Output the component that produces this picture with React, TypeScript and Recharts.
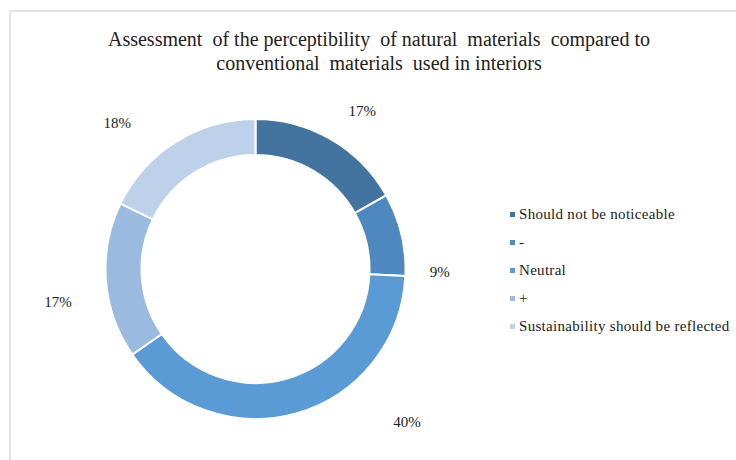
import { PieChart, Pie, Cell, Legend } from 'recharts';

const categories = ['Should not be noticeable', '-', 'Neutral', '+', 'Sustainability should be reflected'];
const shares = [17, 9, 40, 17, 18];

const COLORS = ['#43739F', '#4E88BE', '#5B9BD5', '#9BBAE0', '#BDD1EB'];

// hand-placed offsets for the outside labels so they sit like the report figure
const LABEL_NUDGE: [number, number][] = [
  [20, -9],
  [17, 43],
  [104, -12],
  [-26, 20],
  [-47, 0],
];

const FONT = '"Liberation Serif", "Times New Roman", serif';
const RADIAN = Math.PI / 180;

const data = categories.map((name, i) => ({ name, value: shares[i] }));

function renderLabel(props: any) {
  const { cx, cy, midAngle, outerRadius, index, value } = props;
  const r = outerRadius + 22;
  const [dx, dy] = LABEL_NUDGE[index];
  const x = cx + r * Math.cos(-midAngle * RADIAN) + dx;
  const y = cy + r * Math.sin(-midAngle * RADIAN) + dy;
  return (
    <text x={x} y={y} textAnchor="middle" dominantBaseline="central" fill="#222" fontSize={15} fontFamily={FONT}>
      {`${value}%`}
    </text>
  );
}

function LegendList() {
  return (
    <div style={{ fontFamily: FONT, fontSize: 15, letterSpacing: 0.3, color: '#222' }}>
      {data.map((d, i) => (
        <div key={d.name} style={{ display: 'flex', alignItems: 'center', height: 27.8 }}>
          <span style={{ width: 5, height: 5, background: COLORS[i], marginRight: 4, flexShrink: 0 }} />
          <span style={{ whiteSpace: 'nowrap' }}>{d.name}</span>
        </div>
      ))}
    </div>
  );
}

export default function App() {
  return (
    <div style={{ position: 'absolute', left: 0, top: 0, width: 736, height: 460, background: '#fff', overflow: 'hidden' }}>
      <div
        style={{
          position: 'absolute',
          left: 9,
          top: 10,
          width: 740,
          height: 460,
          borderLeft: '2px solid #E4E4E4',
          borderTop: '2px solid #E4E4E4',
        }}
      />
      <div
        style={{
          position: 'absolute',
          left: 0,
          top: 27,
          width: 758,
          textAlign: 'center',
          fontFamily: FONT,
          fontSize: 20,
          lineHeight: '24px',
          color: '#222',
          whiteSpace: 'pre',
        }}
      >
        {'Assessment  of the perceptibility  of natural  materials  compared to\nconventional  materials  used in interiors'}
      </div>
      <PieChart width={736} height={460} style={{ position: 'absolute', left: 0, top: 0 }}>
        <Pie
          data={data}
          dataKey="value"
          nameKey="name"
          cx={250.5}
          cy={264}
          innerRadius={114}
          outerRadius={150}
          startAngle={90}
          endAngle={-270}
          stroke="#fff"
          strokeWidth={2}
          label={renderLabel}
          labelLine={false}
          isAnimationActive={false}
        >
          {data.map((d, i) => (
            <Cell key={d.name} fill={COLORS[i]} />
          ))}
        </Pie>
        <Legend
          layout="vertical"
          content={<LegendList />}
          wrapperStyle={{ position: 'absolute', left: 510, top: 201, width: 230 }}
        />
      </PieChart>
    </div>
  );
}
